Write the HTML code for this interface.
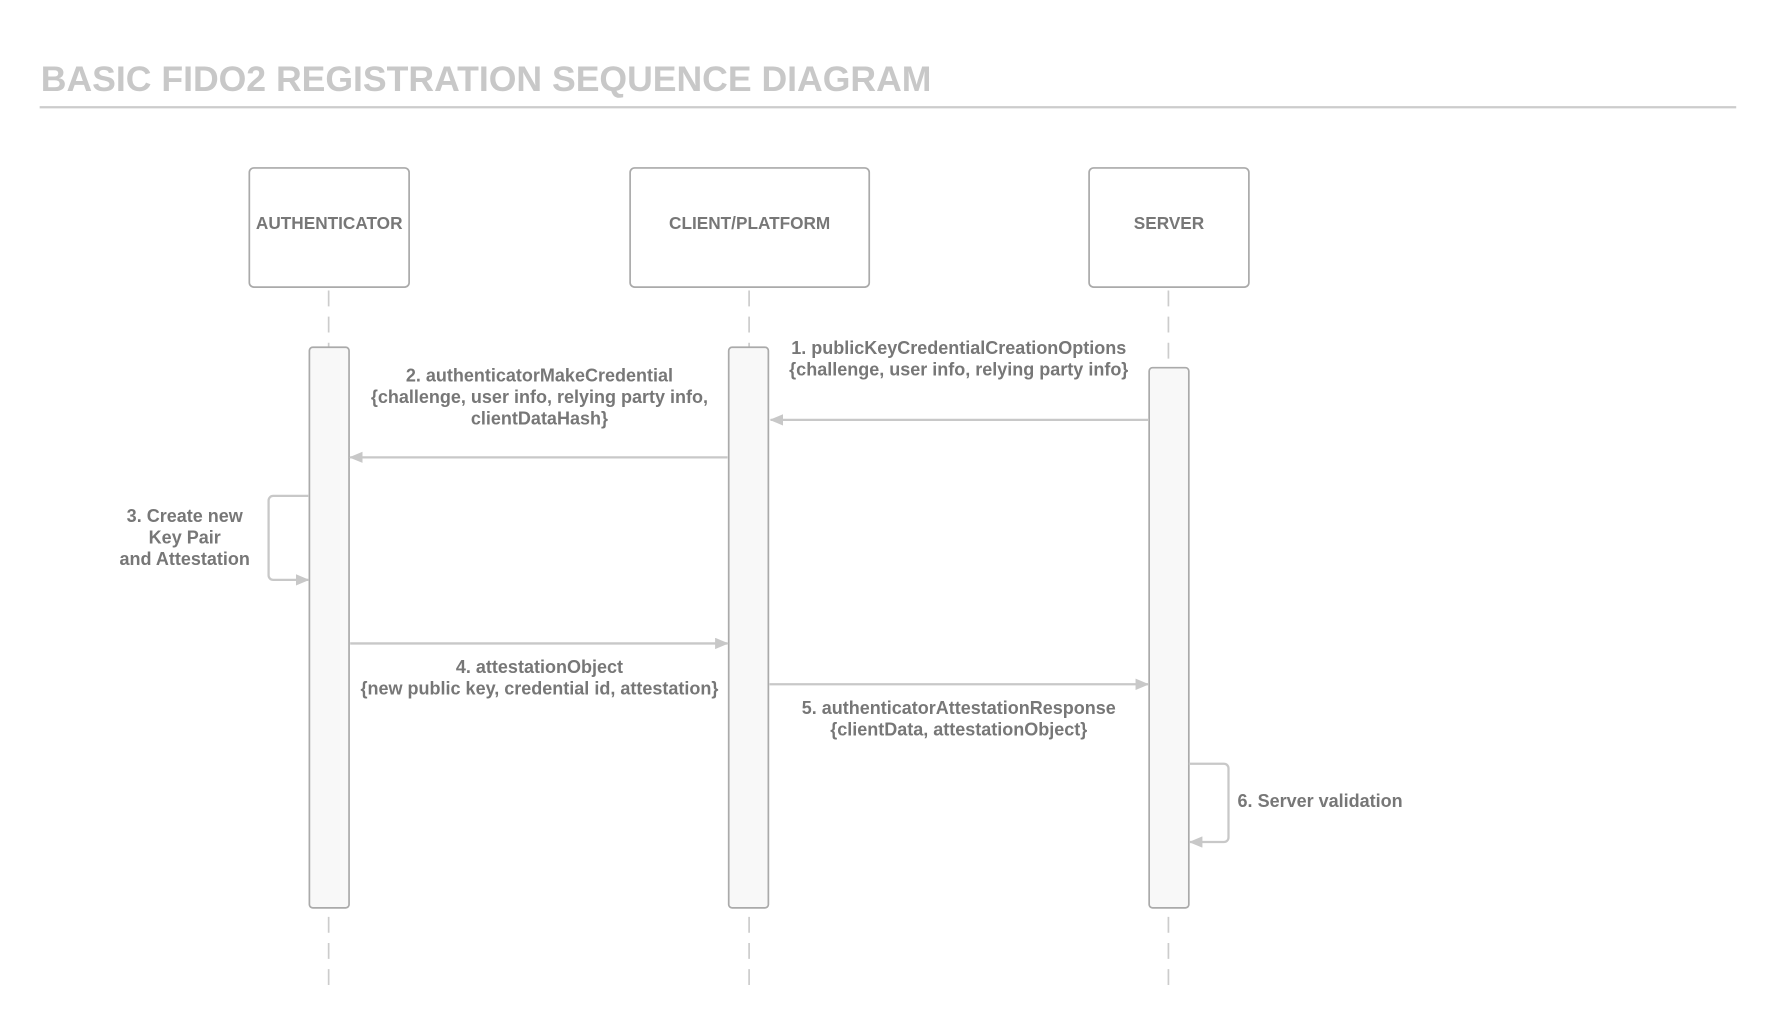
<!DOCTYPE html>
<html><head><meta charset="utf-8"><style>
html,body{margin:0;padding:0;background:#fff;width:1777px;height:1027px;overflow:hidden}
svg{display:block}
text{font-family:"Liberation Sans",Arial,sans-serif;font-weight:bold}
.l{fill:#777;font-size:15.9px}
.b{fill:#777;font-size:15.2px}
</style></head><body>
<svg width="1777" height="1027" viewBox="0 0 1568 905" preserveAspectRatio="none">
<defs>
<marker id="a" markerWidth="12" markerHeight="10" refX="11" refY="5" orient="auto" markerUnits="userSpaceOnUse">
<path d="M0,0 L12,5 L0,10 Z" fill="#c8c8c8"/></marker>
</defs>
<text x="36" y="80" style="font-size:31.4px;fill:#c8c8c8">BASIC FIDO2 REGISTRATION SEQUENCE DIAGRAM</text>
<line x1="35" y1="94.5" x2="1532" y2="94.5" stroke="#ccc" stroke-width="2"/>
<g stroke="#ccc" stroke-width="1.5" stroke-dasharray="14 9">
<line x1="290" y1="256" x2="290" y2="870"/>
<line x1="661" y1="256" x2="661" y2="870"/>
<line x1="1031" y1="256" x2="1031" y2="870"/>
</g>
<g fill="#fff" stroke="#aaa" stroke-width="1.5">
<rect x="220" y="148" width="141" height="105" rx="4"/>
<rect x="556" y="148" width="211" height="105" rx="4"/>
<rect x="961" y="148" width="141" height="105" rx="4"/>
</g>
<g class="b" text-anchor="middle">
<text x="290.5" y="202">AUTHENTICATOR</text>
<text x="661.5" y="202">CLIENT/PLATFORM</text>
<text x="1031.5" y="202">SERVER</text>
</g>
<g fill="#f8f8f8" stroke="#aaa" stroke-width="1.5">
<rect x="273" y="306" width="35" height="494" rx="3"/>
<rect x="643" y="306" width="35" height="494" rx="3"/>
<rect x="1014" y="324" width="35" height="476" rx="3"/>
</g>
<g stroke="#c8c8c8" stroke-width="2" fill="none" marker-end="url(#a)">
<line x1="1013" y1="370" x2="680" y2="370"/>
<line x1="642" y1="403" x2="309" y2="403"/>
<path d="M272,437 H241 a4,4 0 0 0 -4,4 V507 a4,4 0 0 0 4,4 H272"/>
<line x1="309" y1="567" x2="642" y2="567"/>
<line x1="679" y1="603" x2="1013" y2="603"/>
<path d="M1049,673 H1080 a4,4 0 0 1 4,4 V738 a4,4 0 0 1 -4,4 H1050"/>
</g>
<g class="l" text-anchor="middle">
<text x="846" y="312">1. publicKeyCredentialCreationOptions</text>
<text x="846" y="331">{challenge, user info, relying party info}</text>
<text x="476" y="336">2. authenticatorMakeCredential</text>
<text x="476" y="355">{challenge, user info, relying party info,</text>
<text x="476" y="374">clientDataHash}</text>
<text x="163" y="460">3. Create new</text>
<text x="163" y="479">Key Pair</text>
<text x="163" y="498">and Attestation</text>
<text x="476" y="593">4. attestationObject</text>
<text x="476" y="612">{new public key, credential id, attestation}</text>
<text x="846" y="629">5. authenticatorAttestationResponse</text>
<text x="846" y="648">{clientData, attestationObject}</text>
</g>
<text class="l" x="1092" y="711">6. Server validation</text>
</svg>
</body></html>
